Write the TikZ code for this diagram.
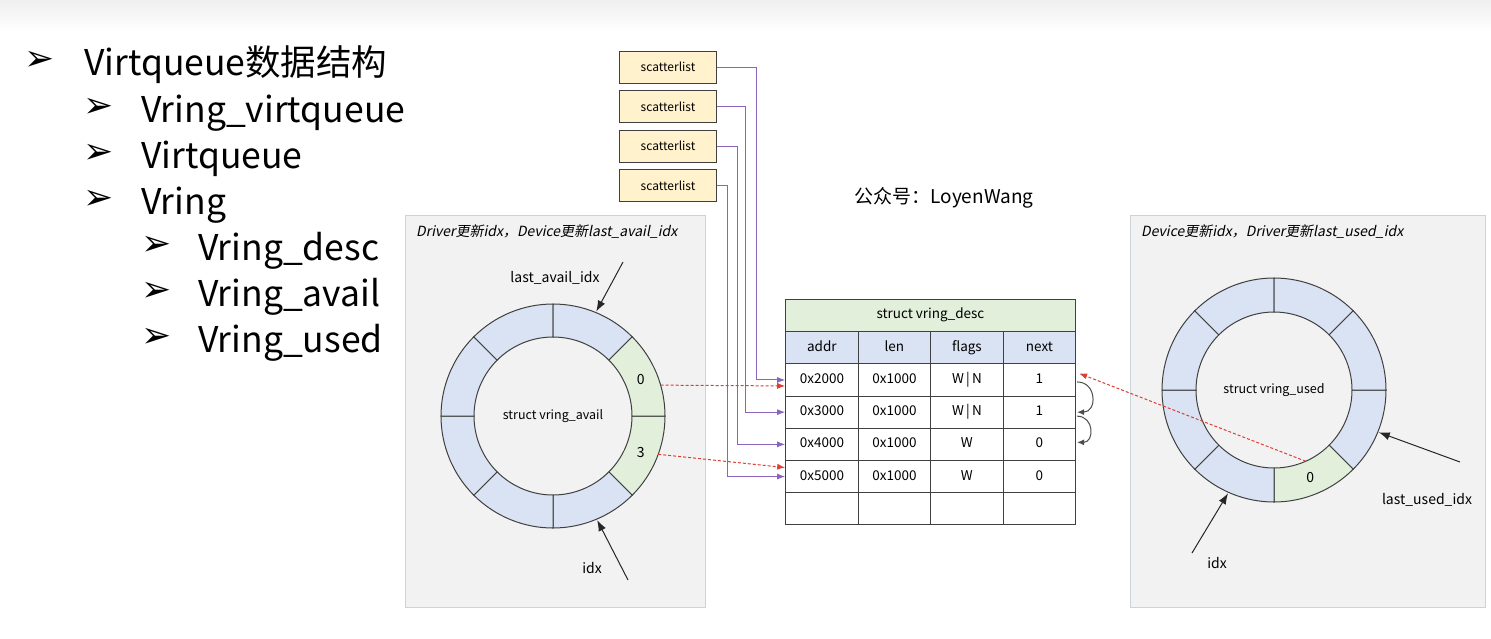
\documentclass[tikz,border=0pt]{standalone}
\usepackage{fontspec}
\setmainfont{Noto Sans CJK SC}
\newfontfamily\cjkit[FakeSlant=0.2]{Noto Sans CJK SC}
\newfontfamily\symfont{DejaVu Sans}
\usepackage{tikz}
\usetikzlibrary{positioning}
\usetikzlibrary{matrix,calc}
\usetikzlibrary{arrows.meta}

\definecolor{panelbg}{HTML}{F2F2F2}
\definecolor{panelline}{HTML}{CDD3DA}
\definecolor{slotblue}{HTML}{DAE3F3}
\definecolor{slotgreen}{HTML}{E2EFDA}
\definecolor{sgfill}{HTML}{FFF2CC}
\definecolor{sgpurple}{RGB}{140,100,190}
\definecolor{idxred}{RGB}{222,62,52}
\definecolor{ringline}{HTML}{404040}

\tikzset{
  panel/.style={draw=panelline, fill=panelbg, line width=1pt, anchor=north west},
  paneltitle/.style={anchor=base west, inner sep=0, font=\cjkit\fontsize{14}{16}\selectfont},
  sg/.style={draw=ringline, fill=sgfill, line width=1pt, minimum width=97pt, minimum height=32pt, inner sep=0, font=\fontsize{12}{14}\selectfont},
  cell/.style={draw=ringline, line width=0.9pt, minimum width=72.5pt, minimum height=32.2pt,
    text height=10pt, text depth=3pt, inner sep=0, font=\fontsize{13.5}{15}\selectfont},
  slot/.style={draw=ringline, line width=1pt},
  sglink/.style={draw=sgpurple, line width=1pt, -{Latex[length=8pt,width=6pt]}},
  idxlink/.style={draw=idxred, line width=1pt, dash pattern=on 3pt off 2pt, -{Latex[length=8pt,width=6pt]}},
  nextlink/.style={draw=black!70, line width=1pt, -{Latex[length=7pt,width=6pt]}},
  ptr/.style={draw=black!85, line width=1pt, -{Latex[length=11pt,width=8pt]}},
  lbl/.style={inner sep=1pt, font=\fontsize{14}{16}\selectfont},
  bullet/.style={inner sep=0, font=\symfont\fontsize{36}{36}\selectfont},
  item/.style={anchor=base west, inner sep=0, font=\fontsize{35.5}{40}\selectfont}
}

\begin{document}
\begin{tikzpicture}[x=1pt, y=-1pt]
\fill[white] (0,0) rectangle (1491,638);
\shade[top color=black!6, bottom color=white] (0,0) rectangle (1491,32);
\useasboundingbox (0,0) rectangle (1491,638);

% bullet list
\foreach \n/\bx/\tx/\by/\t in {l1/40/84/75/Virtqueue数据结构, l2/99/141/122/Vring\_virtqueue,
    l3/99/141/168/Virtqueue, l4/99/141/214/Vring, l5/157/198/260/Vring\_desc,
    l6/157/198/306/Vring\_avail, l7/157/198/352/Vring\_used} {
  \node[bullet] (\n b) at (\bx,\by-14) {➢};
  \node[item] (\n) at (\tx,\by) {\t};
}

\node[font=\fontsize{19}{22}\selectfont] (wx) at (944,198) {公众号：LoyenWang};

% panels
\node[panel, minimum width=300pt, minimum height=392pt] (availpanel) at (405,215) {};
\node[panel, minimum width=355pt, minimum height=392pt] (usedpanel) at (1130,215) {};
\node[paneltitle] (availtitle) at (416,236) {Driver更新idx，Device更新last\_avail\_idx};
\node[paneltitle] (usedtitle) at (1141,236) {Device更新idx，Driver更新last\_used\_idx};

% rings
\coordinate (availc) at (553,416);
\coordinate (usedc) at (1274,390);
\foreach \a/\c in {0/slotgreen,45/slotblue,90/slotblue,135/slotblue,180/slotblue,225/slotblue,270/slotblue,315/slotgreen} {
  \filldraw[slot, fill=\c] ($(availc)+(\a:112)$) arc[start angle=\a, end angle=\a+45, radius=112]
    -- ($(availc)+(\a+45:79)$) arc[start angle=\a+45, end angle=\a, radius=79] -- cycle;
}
\foreach \a/\c in {0/slotblue,45/slotgreen,90/slotblue,135/slotblue,180/slotblue,225/slotblue,270/slotblue,315/slotblue} {
  \filldraw[slot, fill=\c] ($(usedc)+(\a:112)$) arc[start angle=\a, end angle=\a+45, radius=112]
    -- ($(usedc)+(\a+45:78)$) arc[start angle=\a+45, end angle=\a, radius=78] -- cycle;
}
\node[font=\fontsize{12.5}{14}\selectfont] (avail) at (availc) {struct vring\_avail};
\node[font=\fontsize{12.5}{14}\selectfont] (used) at (usedc) {struct vring\_used};
\node[lbl] (av0) at ($(availc)+(-22.5:95)$) {0};
\node[lbl] (av3) at ($(availc)+(22.5:95)$) {3};
\node[lbl] (us0) at ($(usedc)+(67.5:95)$) {0};

% index pointers
\node[lbl] (lastavail) at (555,278) {last\_avail\_idx};
\node[lbl] (availidx) at (592,568) {idx};
\node[lbl] (lastused) at (1427,500) {last\_used\_idx};
\node[lbl] (usedidx) at (1217,563) {idx};
\coordinate (lat) at (623,262);
\coordinate (lah) at ($(availc)+(-67.5:113)$);
\coordinate (ait) at (628,580);
\coordinate (aih) at ($(availc)+(67:113)$);
\coordinate (lut) at (1460,462);
\coordinate (luh) at ($(usedc)+(22:113)$);
\coordinate (uit) at (1192,553);
\coordinate (uih) at ($(usedc)+(114:113)$);
\draw[ptr] (lat) -- (lah);
\draw[ptr] (ait) -- (aih);
\draw[ptr] (lut) -- (luh);
\draw[ptr] (uit) -- (uih);

% descriptor table
\matrix (desc) [matrix of nodes, anchor=north west, inner sep=0, nodes={cell},
  column sep=-0.9pt, row sep=-0.9pt, nodes in empty cells,
  row 1/.style={nodes={fill=slotblue}}] at (785,331) {
  addr & len & flags & next \\
  0x2000 & 0x1000 & W\,|\,N & 1 \\
  0x3000 & 0x1000 & W\,|\,N & 1 \\
  0x4000 & 0x1000 & W & 0 \\
  0x5000 & 0x1000 & W & 0 \\
  & & & \\
};
\node[cell, fill=slotgreen, minimum width=290pt, anchor=south west] (desctitle)
  at ($(desc.north west)+(0,0.9)$) {struct vring\_desc};

% scatterlists
\node[sg] (sg1) at (668,67) {scatterlist};
\node[sg, below=6.5pt of sg1] (sg2) {scatterlist};
\node[sg, below=6.5pt of sg2] (sg3) {scatterlist};
\node[sg, below=6.5pt of sg3] (sg4) {scatterlist};
\foreach \i/\d/\r in {1/39/2, 2/28/3, 3/20/4, 4/10/5} {
  \draw[sglink] (sg\i.east) -- ++(\d,0) |- (desc-\r-1.west);
}

% avail / used ring -> desc
\coordinate (a0) at ($(availc)+(-16:112)$);
\coordinate (a3) at ($(availc)+(20:112)$);
\coordinate (u0) at ($(usedc)+(66:78)$);
\coordinate (d0in) at ($(desc-2-1.west)+(0,6)$);
\coordinate (d3in) at ($(desc-5-1.west)+(0,-9)$);
\coordinate (d0out) at ($(desc-2-4.north east)+(3,10)$);
\draw[idxlink] (a0) -- (d0in);
\draw[idxlink] (a3) -- (d3in);
\draw[idxlink] (u0) -- (d0out);

% next chain
\draw[nextlink] ($(desc-2-4.east)+(1,2)$) to[out=0, in=0, looseness=1.7] ($(desc-3-4.east)+(1,0)$);
\draw[nextlink] ($(desc-3-4.east)+(1,4)$) to[out=0, in=0, looseness=1.7] ($(desc-4-4.east)+(1,-2)$);
\end{tikzpicture}
\end{document}
